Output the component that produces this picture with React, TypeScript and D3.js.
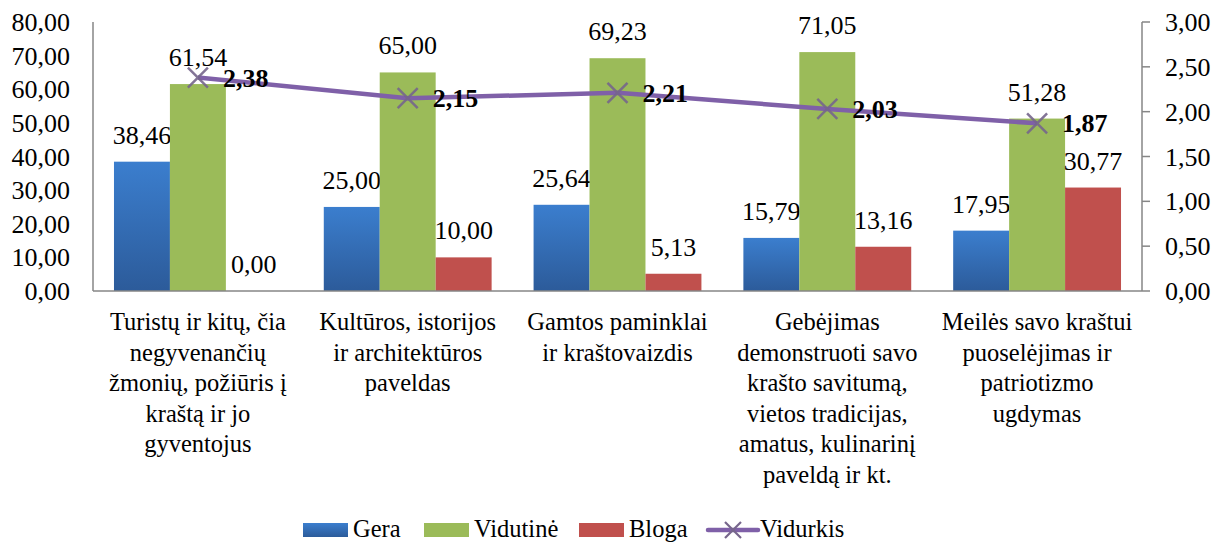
import React from 'react';
import * as d3 from 'd3';

const categories = [
  ['Turistų ir kitų, čia', 'negyvenančių', 'žmonių, požiūris į', 'kraštą ir jo', 'gyventojus'],
  ['Kultūros, istorijos', 'ir architektūros', 'paveldas'],
  ['Gamtos paminklai', 'ir kraštovaizdis'],
  ['Gebėjimas', 'demonstruoti savo', 'krašto savitumą,', 'vietos tradicijas,', 'amatus, kulinarinį', 'paveldą ir kt.'],
  ['Meilės savo kraštui', 'puoselėjimas ir', 'patriotizmo', 'ugdymas'],
];
const seriesNames = ['Gera', 'Vidutinė', 'Bloga'];
const gera = [38.46, 25.0, 25.64, 15.79, 17.95];
const vidutine = [61.54, 65.0, 69.23, 71.05, 51.28];
const bloga = [0.0, 10.0, 5.13, 13.16, 30.77];
const vidurkis = [2.38, 2.15, 2.21, 2.03, 1.87];
const leftTicks = [0, 10, 20, 30, 40, 50, 60, 70, 80];
const rightTicks = [0, 0.5, 1, 1.5, 2, 2.5, 3];

const W = 1216;
const H = 542;
const left = 93;
const right = 1142;
const top = 22;
const bottom = 291;
const axisColor = '#868686';
const lineColor = '#7f60a8';
const markColor = '#76668c';
const colors = ['url(#blueGrad)', '#9bbb59', '#c0504d'];
const fmt = (v: number) => d3.format('.2f')(v).replace('.', ',');

const numStyle: React.CSSProperties = { fontFamily: 'Liberation Serif', fontSize: 26 };
const lblStyle: React.CSSProperties = { fontFamily: 'Liberation Serif', fontSize: 24.5 };

const App: React.FC = () => {
  const values = [gera, vidutine, bloga];
  const idx = d3.range(categories.length);

  const x = d3.scaleBand<number>().domain(idx).range([left, right])
    .paddingInner(0.2).paddingOuter(0.1);
  const xs = d3.scaleBand<number>().domain(d3.range(seriesNames.length)).range([0, x.bandwidth()]);
  const y = d3.scaleLinear().domain([0, 80]).range([bottom, top]);
  const y2 = d3.scaleLinear().domain([0, 3]).range([bottom, top]);

  const cx = (i: number) => (x(i) ?? 0) + (xs(1) ?? 0) + xs.bandwidth() / 2;
  const linePath = d3.line<number>().x((_, i) => cx(i)).y((d) => y2(d))(vidurkis) ?? '';
  const cross = (px: number, py: number, m: number) =>
    `M${px - m},${py - m}L${px + m},${py + m}M${px - m},${py + m}L${px + m},${py - m}`;

  const ly = 523;
  const legendX = [303, 424, 579];
  const lx = 708;

  return (
    <svg width={W} height={H} style={{ position: 'absolute', left: 0, top: 0, background: '#fff' }}>
      <defs>
        <linearGradient id="blueGrad" x1="0" y1="0" x2="0" y2="1">
          <stop offset="0%" stopColor="#3b7ece" />
          <stop offset="100%" stopColor="#2c5b9a" />
        </linearGradient>
      </defs>

      {/* left axis */}
      <line x1={left} x2={left} y1={top} y2={bottom} stroke={axisColor} strokeWidth={1.5} />
      {leftTicks.map((t) => (
        <text key={t} x={left - 23} y={y(t)} dy="0.35em" textAnchor="end" style={numStyle}>{fmt(t)}</text>
      ))}

      {/* right axis */}
      <line x1={right} x2={right} y1={top} y2={bottom} stroke={axisColor} strokeWidth={1.5} />
      {rightTicks.map((t) => (
        <g key={t}>
          <line x1={right} x2={right + 8} y1={y2(t)} y2={y2(t)} stroke={axisColor} strokeWidth={1.5} />
          <text x={right + 23} y={y2(t)} dy="0.35em" style={numStyle}>{fmt(t)}</text>
        </g>
      ))}

      {/* bars */}
      {values.map((vals, s) => (
        <g key={s}>
          {vals.map((v, i) => (
            <rect key={i} x={(x(i) ?? 0) + (xs(s) ?? 0)} y={y(v)} width={xs.bandwidth()}
              height={bottom - y(v)} fill={colors[s]} />
          ))}
          {vals.map((v, i) => (
            <text key={'t' + i} x={(x(i) ?? 0) + (xs(s) ?? 0) + xs.bandwidth() / 2} y={y(v) - 18}
              textAnchor="middle" style={numStyle}>{fmt(v)}</text>
          ))}
        </g>
      ))}

      <line x1={left} x2={right} y1={bottom} y2={bottom} stroke={axisColor} strokeWidth={1.5} />

      {/* category labels */}
      {categories.map((lines, i) => (
        <text key={i} textAnchor="middle" style={lblStyle}>
          {lines.map((ln, j) => (
            <tspan key={j} x={(x(i) ?? 0) + x.bandwidth() / 2} y={330 + j * 30.5}>{ln}</tspan>
          ))}
        </text>
      ))}

      {/* line series */}
      <path d={linePath} fill="none" stroke={lineColor} strokeWidth={4.5} strokeLinejoin="round" />
      {vidurkis.map((v, i) => (
        <g key={i}>
          <path d={cross(cx(i), y2(v), 10)} stroke={markColor} strokeWidth={2.5} opacity={0.9} />
          <text x={cx(i) + 25} y={y2(v) + 9} style={{ ...numStyle, fontWeight: 'bold' }}>{fmt(v)}</text>
        </g>
      ))}

      {/* legend */}
      {seriesNames.map((name, s) => (
        <g key={name}>
          <rect x={legendX[s]} y={ly} width={45} height={14} fill={colors[s]} />
          <text x={legendX[s] + 50} y={ly + 14} style={lblStyle}>{name}</text>
        </g>
      ))}
      <line x1={lx} x2={lx + 50} y1={ly + 7} y2={ly + 7} stroke={lineColor} strokeWidth={4.5} strokeLinecap="round" />
      <path d={cross(lx + 25, ly + 7, 8)} stroke={markColor} strokeWidth={2.2} />
      <text x={lx + 52} y={ly + 14} style={lblStyle}>Vidurkis</text>
    </svg>
  );
};

export default App;
